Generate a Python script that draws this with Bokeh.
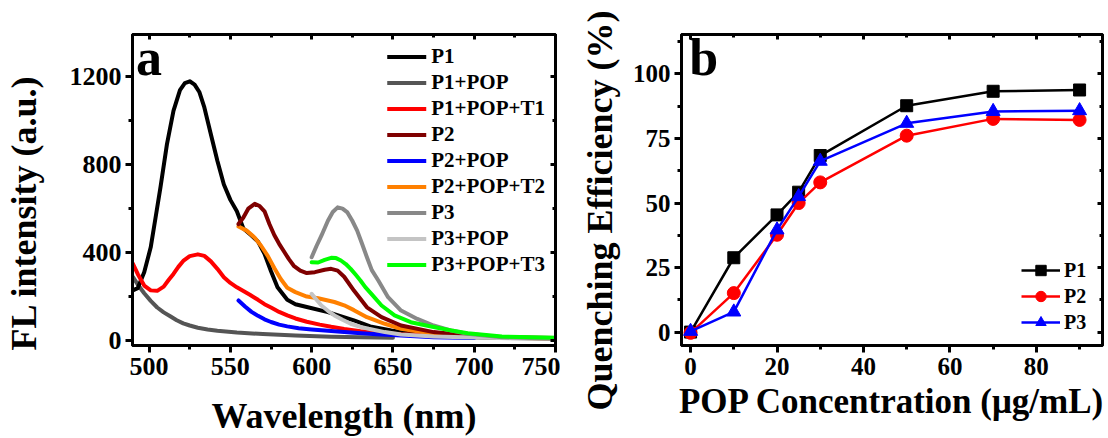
from bokeh.plotting import figure
from bokeh.models import (Range1d, SingleIntervalTicker, LinearAxis, Legend,
                          LegendItem, Label, Title)
from bokeh.layouts import row
from bokeh.embed import file_html
from bokeh.resources import INLINE

FONT = "Liberation Serif"

# ---------------- Panel a: fluorescence spectra ----------------
P1_WL = [490, 493, 497, 501, 504, 507, 511, 515, 519, 522, 525, 528, 531, 534, 538, 542, 546,
         550, 554, 558, 563, 567, 571, 575, 579, 585, 590, 597, 610, 626, 636, 649, 660, 680,
         700, 720, 750]
P1_I = [228, 238, 310, 424, 560, 697, 894, 1045, 1140, 1172, 1180, 1165, 1130, 1061, 939, 818,
        710, 640, 588, 510, 478, 450, 395, 315, 242, 185, 165, 152, 129, 91, 64, 45, 32, 20,
        14, 11, 9]

P1POP_WL = [490, 493, 497, 501, 505, 509, 513, 517, 521, 525, 530, 536, 542, 554, 570, 590,
            612, 630, 650]
P1POP_I = [290, 255, 215, 180, 150, 128, 110, 92, 78, 68, 58, 50, 44, 36, 29, 22, 17, 14, 12]

P1T1_WL = [490, 493, 497, 501, 505, 509, 512, 515, 518, 521, 525, 530, 534, 538, 542, 546, 550,
           554, 558, 562, 567, 571, 575, 580, 585, 590, 597, 605, 612, 620, 630, 640, 655, 675,
           700]
P1T1_I = [350, 303, 250, 228, 226, 245, 275, 303, 335, 362, 384, 392, 385, 360, 326, 288, 262,
          242, 225, 208, 185, 165, 150, 130, 114, 100, 85, 72, 62, 52, 42, 35, 28, 22, 17]

P2_WL = [555, 558, 561, 565, 568, 571, 574, 577, 580, 583, 586, 589, 593, 597, 602, 608, 612,
         616, 620, 626, 634, 643, 655, 675, 696, 717, 750]
P2_I = [530, 560, 600, 622, 612, 588, 530, 480, 440, 405, 370, 340, 318, 307, 311, 322, 326,
        318, 290, 227, 151, 106, 68, 38, 23, 15, 11]

P2POP_WL = [555, 559, 563, 567, 571, 575, 580, 585, 592, 600, 610, 626, 640, 655, 675, 700]
P2POP_I = [182, 155, 130, 112, 96, 84, 72, 64, 56, 50, 44, 35, 28, 22, 15, 11]

P2T2_WL = [555, 560, 565, 569, 573, 577, 581, 585, 590, 597, 604, 610, 614, 620, 626, 634, 645,
           655, 675, 696, 720, 750]
P2T2_I = [519, 500, 468, 430, 385, 330, 280, 240, 220, 200, 192, 182, 175, 160, 138, 106, 76,
          53, 30, 18, 12, 9]

P3_WL = [600, 603, 606, 610, 613, 616, 619, 622, 625, 628, 631, 634, 637, 641, 647, 655, 665,
         675, 686, 696, 717, 750]
P3_I = [379, 430, 477, 545, 585, 606, 600, 583, 545, 500, 440, 379, 320, 273, 197, 136, 98,
        68, 45, 30, 15, 8]

P3POP_WL = [600, 603, 606, 610, 614, 619, 624, 630, 635, 645, 655, 675, 700, 725, 750]
P3POP_I = [212, 185, 159, 135, 114, 94, 76, 62, 53, 38, 27, 18, 13, 10, 9]

P3T3_WL = [600, 604, 608, 612, 615, 618, 621, 624, 627, 630, 633, 637, 643, 651, 661, 675, 686,
           696, 717, 750]
P3T3_I = [356, 355, 367, 376, 375, 364, 348, 326, 300, 273, 243, 210, 159, 114, 83, 61, 45, 33,
          18, 12]

SERIES_A = [
    ("P1", P1_WL, P1_I, "#000000"),
    ("P1+POP", P1POP_WL, P1POP_I, "#555555"),
    ("P1+POP+T1", P1T1_WL, P1T1_I, "#ff0000"),
    ("P2", P2_WL, P2_I, "#7f0000"),
    ("P2+POP", P2POP_WL, P2POP_I, "#0000ff"),
    ("P2+POP+T2", P2T2_WL, P2T2_I, "#ff8000"),
    ("P3", P3_WL, P3_I, "#888888"),
    ("P3+POP", P3POP_WL, P3POP_I, "#c4c4c4"),
    ("P3+POP+T3", P3T3_WL, P3T3_I, "#00ff00"),
]
DRAW_ORDER_A = ["P1+POP", "P1", "P1+POP+T1", "P2+POP", "P2+POP+T2", "P2", "P3+POP", "P3",
                "P3+POP+T3"]

# ---------------- Panel b: quenching efficiency ----------------
CONC = [0, 10, 20, 25, 30, 50, 70, 90]
QE_P1 = [0.0, 28.8, 45.4, 54.2, 68.4, 87.7, 93.3, 93.8]
QE_P2 = [-0.3, 15.1, 37.7, 50.0, 58.0, 76.1, 82.6, 82.2]
QE_P3 = [0.3, 7.8, 39.6, 52.5, 66.2, 80.9, 85.5, 85.8]


def style_axes(p, xint, yint, label_size):
    p.outline_line_color = "black"
    p.outline_line_width = 3
    p.xgrid.visible = False
    p.ygrid.visible = False
    xax = p.below[0]
    yax = p.left[0]
    xax.ticker = SingleIntervalTicker(interval=xint, num_minor_ticks=2)
    yax.ticker = SingleIntervalTicker(interval=yint, num_minor_ticks=2)
    for ax in (xax, yax):
        ax.axis_line_width = 3
        ax.axis_line_color = "black"
        ax.major_tick_line_width = 3
        ax.minor_tick_line_width = 3
        ax.major_tick_out = 7
        ax.major_tick_in = 0
        ax.minor_tick_out = 4
        ax.minor_tick_in = 0
        ax.major_label_text_font = FONT
        ax.major_label_text_font_style = "bold"
        ax.major_label_text_font_size = label_size
        ax.major_label_text_color = "black"
        ax.axis_label_text_font = FONT
        ax.axis_label_text_font_style = "bold"
        ax.axis_label_text_color = "black"
    xax.major_label_standoff = 5
    yax.major_label_standoff = 4
    for loc, iv in (("above", xint), ("right", yint)):
        ax = LinearAxis(ticker=SingleIntervalTicker(interval=iv, num_minor_ticks=2),
                        major_label_text_font_size="1px", major_label_text_color=None,
                        major_label_standoff=0, axis_label=None,
                        major_tick_in=5, major_tick_out=0, minor_tick_in=3, minor_tick_out=0,
                        axis_line_width=3, major_tick_line_width=3, minor_tick_line_width=3)
        p.add_layout(ax, loc)
    return xax, yax


# ---- figure a ----
pa = figure(width=560, height=438, output_backend="svg", toolbar_location=None,
            x_range=Range1d(489.8, 750), y_range=Range1d(-23, 1393),
            min_border_left=132, min_border_right=5, min_border_top=34, min_border_bottom=93)
xa, ya = style_axes(pa, 50, 400, "26px")
xa.axis_label = "Wavelength (nm)"
xa.axis_label_text_font_size = "36px"
xa.axis_label_standoff = 18
ya.axis_label = "FL intensity (a.u.)" + "\u00a0" * 5
ya.axis_label_text_font_size = "36px"
ya.axis_label_standoff = 23

renderers = {}
lookup = {s[0]: s for s in SERIES_A}
for name in DRAW_ORDER_A:
    _, wl, inten, col = lookup[name]
    renderers[name] = pa.line(wl, inten, line_color=col, line_width=4, line_join="round",
                              line_cap="round")
legend_a = Legend(items=[LegendItem(label=s[0], renderers=[renderers[s[0]]]) for s in SERIES_A],
                  location="top_right", margin=0, padding=10, spacing=1, glyph_width=39,
                  glyph_height=21, label_height=21, label_standoff=5,
                  label_text_font=FONT, label_text_font_style="bold", label_text_color="black",
                  label_text_font_size="21px", border_line_alpha=0, background_fill_alpha=0)
pa.add_layout(legend_a, "center")
pa.add_layout(Label(x=492, y=1290, text="a", text_font=FONT, text_font_style="bold",
                    text_color="black", text_font_size="52px", text_baseline="alphabetic"))

# ---- figure b ----
pb = figure(width=548, height=438, output_backend="svg", toolbar_location=None,
            x_range=Range1d(-2.1, 95.3), y_range=Range1d(-5.2, 115.3),
            min_border_left=121, min_border_right=6, min_border_top=34, min_border_bottom=93)
xb, yb = style_axes(pb, 20, 25, "25px")
xb.axis_label = "POP Concentration (\u03bcg/mL)"
xb.axis_label_text_font_size = "35px"
xb.axis_label_standoff = 4
pb.add_layout(Title(text="Quenching Efficiency (%)", align="left", offset=-65, text_font=FONT,
                    text_font_style="bold", text_font_size="36px", text_color="black",
                    standoff=20), "left")

items_b = []
for name, vals, col, mk, sz in (("P1", QE_P1, "black", "square", 12),
                                ("P2", QE_P2, "#ff0000", "circle", 13),
                                ("P3", QE_P3, "#0000ff", "triangle", 14)):
    lr = pb.line(CONC, vals, line_color=col, line_width=2.5)
    sr = pb.scatter(CONC, vals, marker=mk, size=sz, fill_color=col, line_color=col)
    items_b.append(LegendItem(label=name, renderers=[lr, sr]))
legend_b = Legend(items=items_b, location=(334, 4), margin=0, padding=6, spacing=0,
                  glyph_width=39, glyph_height=26, label_height=20, label_standoff=4,
                  label_text_font=FONT, label_text_font_style="bold", label_text_color="black",
                  label_text_font_size="20px", border_line_alpha=0, background_fill_alpha=0)
pb.add_layout(legend_b, "center")
pb.add_layout(Label(x=-0.3, y=106.3, text="b", text_font=FONT, text_font_style="bold",
                    text_color="black", text_font_size="52px", text_baseline="alphabetic"))

layout = row(pa, pb)
open("out.html", "w").write(file_html(layout, INLINE))
